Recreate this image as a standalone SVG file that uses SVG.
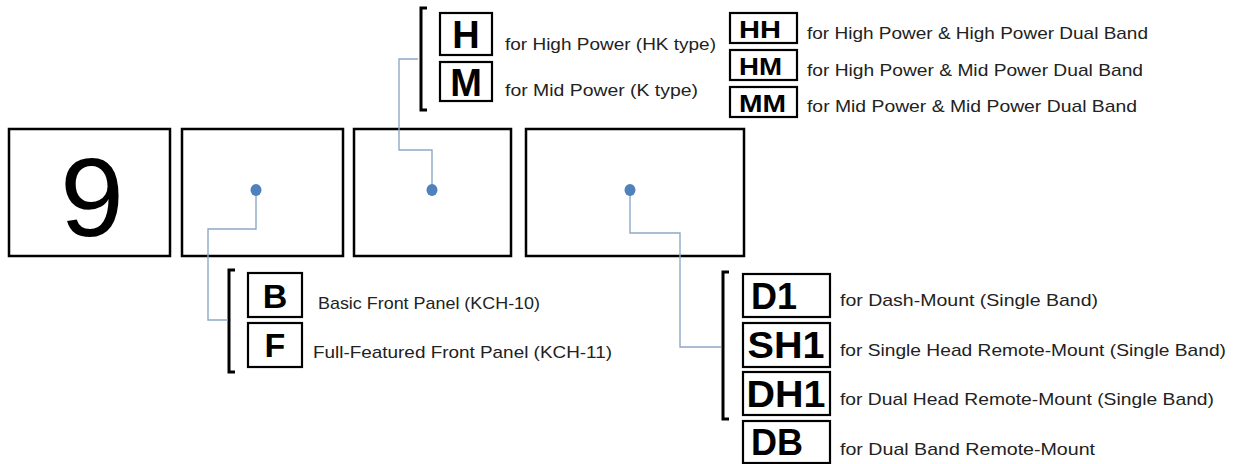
<svg xmlns="http://www.w3.org/2000/svg" width="1239" height="464" viewBox="0 0 1239 464">
<style>
.box{fill:#fff;stroke:#000;stroke-width:2.5}
.cbox{fill:#fff;stroke:#000;stroke-width:2.2}
.brk{fill:none;stroke:#000;stroke-width:3}
.con{fill:none;stroke:#8fa8c8;stroke-width:1.4}
.dot{fill:#4f81bd}
.lbl{font-family:"Liberation Sans",Arial,sans-serif;font-size:17px;fill:#222}
.code{font-family:"Liberation Sans",Arial,sans-serif;font-weight:bold;fill:#000}
</style>
<rect width="1239" height="464" fill="#fff"/>
<g id="digit9"><rect class="box" x="9" y="129" width="161" height="127"/>
<text x="92" y="236" text-anchor="middle" textLength="64" lengthAdjust="spacingAndGlyphs" style="font-family:'Liberation Sans',Arial,sans-serif;font-size:112px;fill:#000">9</text></g>
<g id="panel-slot"><rect class="box" x="182" y="129" width="161" height="127"/></g>
<g id="power-slot"><rect class="box" x="354" y="129" width="157" height="127"/></g>
<g id="mount-slot"><rect class="box" x="526" y="129" width="218" height="127"/></g>

<g id="power-options">
<path class="brk" d="M427,8 H421 V110 H427"/>
<rect class="cbox" x="440" y="13" width="52" height="42"/>
<text class="code" x="466" y="48" text-anchor="middle" font-size="38">H</text>
<text class="lbl" x="505" y="50" textLength="211" lengthAdjust="spacingAndGlyphs">for High Power (HK type)</text>
<rect class="cbox" x="440" y="62" width="52" height="39"/>
<text class="code" x="466" y="96" text-anchor="middle" font-size="38">M</text>
<text class="lbl" x="505" y="96" textLength="193" lengthAdjust="spacingAndGlyphs">for Mid Power (K type)</text>
</g>
<g id="dual-options">
<rect class="cbox" x="730" y="13" width="67" height="30"/>
<text class="code" x="739" y="38" font-size="24" textLength="42" lengthAdjust="spacingAndGlyphs">HH</text>
<text class="lbl" x="807" y="39" textLength="341" lengthAdjust="spacingAndGlyphs">for High Power &amp; High Power Dual Band</text>
<rect class="cbox" x="730" y="50" width="67" height="30"/>
<text class="code" x="739" y="75" font-size="24" textLength="43" lengthAdjust="spacingAndGlyphs">HM</text>
<text class="lbl" x="807" y="76" textLength="336" lengthAdjust="spacingAndGlyphs">for High Power &amp; Mid Power Dual Band</text>
<rect class="cbox" x="730" y="87" width="67" height="30"/>
<text class="code" x="739" y="112" font-size="24" textLength="47" lengthAdjust="spacingAndGlyphs">MM</text>
<text class="lbl" x="807" y="112" textLength="330" lengthAdjust="spacingAndGlyphs">for Mid Power &amp; Mid Power Dual Band</text>
</g>
<g id="panel-options">
<path class="brk" d="M235,270 H229 V372 H235"/>
<rect class="cbox" x="248" y="273" width="54" height="44"/>
<text class="code" x="275" y="308" text-anchor="middle" font-size="34">B</text>
<text class="lbl" x="318" y="309" textLength="222" lengthAdjust="spacingAndGlyphs">Basic Front Panel (KCH-10)</text>
<rect class="cbox" x="248" y="323" width="54" height="44"/>
<text class="code" x="275" y="357" text-anchor="middle" font-size="34">F</text>
<text class="lbl" x="313" y="358" textLength="299" lengthAdjust="spacingAndGlyphs">Full-Featured Front Panel (KCH-11)</text>
</g>
<g id="mount-options">
<path class="brk" d="M729,272 H723 V419 H729"/>
<rect class="cbox" x="743" y="274" width="87" height="43"/>
<text class="code" x="751" y="309" font-size="36">D1</text>
<text class="lbl" x="840" y="306" textLength="258" lengthAdjust="spacingAndGlyphs">for Dash-Mount (Single Band)</text>
<rect class="cbox" x="743" y="323" width="87" height="44"/>
<text class="code" x="786" y="358" text-anchor="middle" font-size="36" textLength="77" lengthAdjust="spacingAndGlyphs">SH1</text>
<text class="lbl" x="840" y="356" textLength="386" lengthAdjust="spacingAndGlyphs">for Single Head Remote-Mount (Single Band)</text>
<rect class="cbox" x="743" y="372" width="87" height="43"/>
<text class="code" x="786" y="407" text-anchor="middle" font-size="36" textLength="79" lengthAdjust="spacingAndGlyphs">DH1</text>
<text class="lbl" x="840" y="405" textLength="374" lengthAdjust="spacingAndGlyphs">for Dual Head Remote-Mount (Single Band)</text>
<rect class="cbox" x="743" y="421" width="87" height="42"/>
<text class="code" x="751" y="455" font-size="36">DB</text>
<text class="lbl" x="840" y="455" textLength="255" lengthAdjust="spacingAndGlyphs">for Dual Band Remote-Mount</text>
</g>
<g id="connectors">
<polyline class="con" points="256,190 256,229 208,229 208,320 228,320"/>
<polyline class="con" points="432,190 432,150 399,150 399,59 418,59"/>
<polyline class="con" points="630,190 630,233 680,233 680,347 721,347"/>
<ellipse class="dot" cx="256" cy="190" rx="5.5" ry="6"/>
<ellipse class="dot" cx="432" cy="190" rx="5.5" ry="6"/>
<ellipse class="dot" cx="630" cy="190" rx="5.5" ry="6"/>
</g>
</svg>
